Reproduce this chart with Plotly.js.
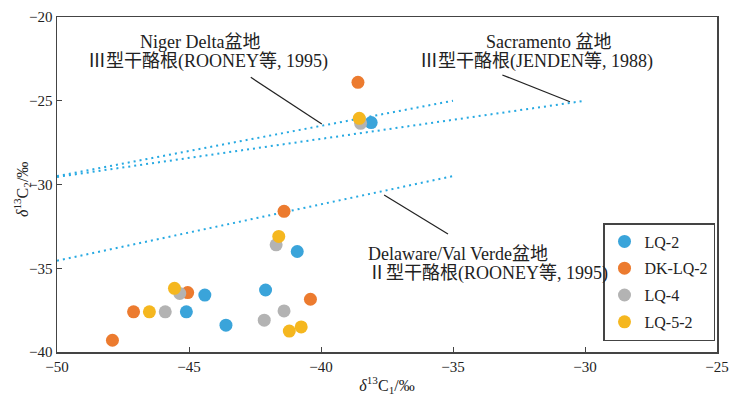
<!DOCTYPE html>
<html>
<head>
<meta charset="utf-8">
<script src="https://cdn.plot.ly/plotly-3.0.1.min.js"></script>
<style>html,body{margin:0;padding:0;background:#fff;}#chart{width:731px;height:396px;}</style>
</head>
<body>
<div id="chart"></div>
<script>
// Series data (δ13C1, δ13C2 in ‰)
const seriesNames = ["LQ-2", "DK-LQ-2", "LQ-4", "LQ-5-2"];
const lq2X = [-38.1, -40.9, -42.1, -44.4, -45.1, -43.6];
const lq2Y = [-26.3, -34.0, -36.3, -36.6, -37.6, -38.4];
const dkX = [-38.6, -41.4, -45.05, -47.1, -47.9, -40.4];
const dkY = [-23.9, -31.6, -36.45, -37.6, -39.3, -36.85];
const lq4X = [-38.5, -41.7, -45.35, -45.9, -42.15, -41.4];
const lq4Y = [-26.35, -33.6, -36.5, -37.6, -38.1, -37.55];
const lq52X = [-38.55, -41.6, -45.55, -46.5, -41.2, -40.75];
const lq52Y = [-26.05, -33.1, -36.2, -37.6, -38.75, -38.5];

// Reference kerogen trend lines
const nigerX = [-50, -35];
const nigerY = [-29.5, -25];
const sacramentoX = [-50, -30];
const sacramentoY = [-29.55, -25];
const delawareX = [-50, -35];
const delawareY = [-34.55, -29.5];

// Labels
const xTitle = "<i>δ</i><sup>13</sup>C<sub>1</sub>/‰";
const yTitle = "<i>δ</i><sup>13</sup>C<sub>2</sub>/‰";
const labelNiger = ["Niger Delta盆地", "Ⅲ型干酪根(ROONEY等, 1995)"];
const labelSacramento = ["Sacramento 盆地", "Ⅲ型干酪根(JENDEN等, 1988)"];
const labelDelaware = ["Delaware/Val Verde盆地", "Ⅱ型干酪根(ROONEY等, 1995)"];

const colors = ["#3aa4da", "#ec7b2f", "#b3b3b3", "#f5b71f"];
const font = "'Liberation Serif', 'Times New Roman', 'Noto Sans CJK SC', serif";

const refLine = (x, y) => ({
  x: x, y: y, type: "scatter", mode: "lines", showlegend: false, hoverinfo: "skip",
  line: {color: "#26a9e2", width: 2, dash: "2px,4px"}
});
const pts = (x, y, i) => ({
  x: x, y: y, type: "scatter", mode: "markers", name: seriesNames[i],
  legendgroup: "g" + i,
  marker: {color: colors[i], size: 13, line: {width: 0}}
});

const data = [
  refLine(nigerX, nigerY), refLine(sacramentoX, sacramentoY), refLine(delawareX, delawareY),
  pts(lq2X, lq2Y, 0), pts(dkX, dkY, 1), pts(lq4X, lq4Y, 2), pts(lq52X, lq52Y, 3)
];

const leader = (x0, y0, x1, y1) => ({
  type: "line", xref: "x", yref: "y", x0: x0, y0: y0, x1: x1, y1: y1,
  line: {color: "#222", width: 1.2}
});
const txt = (s, x, y, anchor) => ({
  text: s, xref: "paper", yref: "paper", x: x, y: y, xanchor: anchor || "center", yanchor: "middle",
  showarrow: false, font: {family: font, size: 18, color: "#222"}
});
const px = p => (p - 57) / 660;
const py = p => (352 - p) / 335;

const layout = {
  width: 731, height: 396,
  margin: {l: 57, r: 14, t: 17, b: 44},
  paper_bgcolor: "#fff", plot_bgcolor: "#fff",
  font: {family: font, size: 15, color: "#222"},
  showlegend: true,
  legend: {
    x: px(603), y: py(223), xanchor: "left", yanchor: "top",
    bordercolor: "#444", borderwidth: 1.5, bgcolor: "#fff",
    font: {family: font, size: 16, color: "#222"},
    tracegroupgap: 3, itemwidth: 30
  },
  xaxis: {
    range: [-50, -25], dtick: 5, tick0: -50, showgrid: false, zeroline: false,
    showline: true, mirror: true, linecolor: "#444", linewidth: 1.5,
    ticks: "inside", ticklen: 5, tickcolor: "#444",
    tickfont: {family: font, size: 15, color: "#222"},
    title: {text: xTitle, font: {family: font, size: 16, color: "#222"}, standoff: 6}
  },
  yaxis: {
    range: [-40, -20], dtick: 5, tick0: -40, showgrid: false, zeroline: false,
    showline: true, mirror: true, linecolor: "#444", linewidth: 1.5,
    ticks: "inside", ticklen: 5, tickcolor: "#444",
    tickfont: {family: font, size: 15, color: "#222"}
  },
  shapes: [
    leader(-42.66, -23.6, -39.97, -26.39),
    leader(-33.13, -23.46, -30.57, -25.06),
    leader(-37.61, -30.63, -35.19, -32.96)
  ],
  annotations: [
    {text: yTitle, xref: "paper", yref: "paper", x: px(22), y: py(190), xanchor: "center", yanchor: "middle",
     textangle: -90, showarrow: false, font: {family: font, size: 16, color: "#222"}},
    txt(labelNiger[0], px(200), py(42)),
    txt(labelNiger[1], px(208), py(61)),
    txt(labelSacramento[0], px(548), py(42)),
    txt(labelSacramento[1], px(536), py(61)),
    txt(labelDelaware[0], px(366), py(254), "left"),
    txt(labelDelaware[1], px(366), py(273), "left")
  ]
};

Plotly.newPlot("chart", data, layout, {displayModeBar: false, staticPlot: true});
</script>
</body>
</html>
